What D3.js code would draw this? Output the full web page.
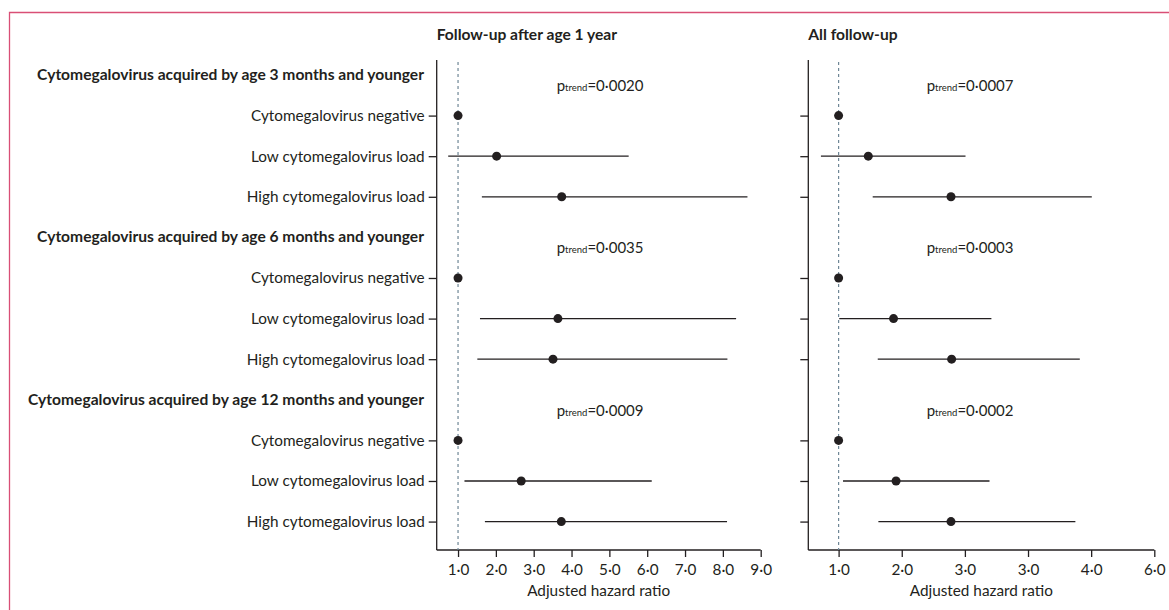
<!DOCTYPE html>
<html lang="en">
<head>
  <meta charset="UTF-8">
  <title>Cytomegalovirus hazard ratios</title>
  <script src="https://d3js.org/d3.v7.min.js"></script>
  <style>
    body { margin: 0; background: #fff; font-family: Lato, "Open Sans", sans-serif; }
    svg { display: block; }
    .axis path, .axis line { stroke: #231f20; stroke-width: 1.3px; }
    .axis text { font-family: Lato, sans-serif; font-size: 15.3px; fill: #231f20; }
  </style>
</head>
<body>
  <script>
    // data
    const groupTitles = [
      "Cytomegalovirus acquired by age 3 months and younger",
      "Cytomegalovirus acquired by age 6 months and younger",
      "Cytomegalovirus acquired by age 12 months and younger"
    ];
    const rowLabels = ["Cytomegalovirus negative", "Low cytomegalovirus load", "High cytomegalovirus load"];
    const panelTitles = ["Follow-up after age 1 year", "All follow-up"];

    // follow-up after age 1 year: estimate, lower, upper (3 rows per group)
    const after1Est   = [1.0, 2.02, 3.74,  1.0, 3.64, 3.51,  1.0, 2.67, 3.73];
    const after1Lower = [null, 0.74, 1.63,  null, 1.58, 1.51,  null, 1.17, 1.71];
    const after1Upper = [null, 5.51, 8.65,  null, 8.35, 8.12,  null, 6.12, 8.11];
    const after1P = ["0·0020", "0·0035", "0·0009"];

    // all follow-up
    const allEst   = [1.0, 1.47, 2.78,  1.0, 1.87, 2.79,  1.0, 1.91, 2.78];
    const allLower = [null, 0.72, 1.54,  null, 1.01, 1.62,  null, 1.07, 1.63];
    const allUpper = [null, 3.01, 5.01,  null, 3.42, 4.82,  null, 3.39, 4.75];
    const allP = ["0·0007", "0·0003", "0·0002"];

    const after1Ticks = [1, 2, 3, 4, 5, 6, 7, 8, 9];
    const after1TickLabels = ["1·0", "2·0", "3·0", "4·0", "5·0", "6·0", "7·0", "8·0", "9·0"];
    const allTicks = [1, 2, 3, 4, 5, 6];
    const allTickLabels = ["1·0", "2·0", "3·0", "3·0", "4·0", "6·0"];

    const W = 1169, H = 610;
    const svg = d3.select("body").append("svg").attr("width", W).attr("height", H);

    // pink frame (top and left)
    svg.append("path")
      .attr("d", `M9.5,${H} L9.5,12.5 L${W},12.5`)
      .attr("fill", "none")
      .attr("stroke", "#d94f76")
      .attr("stroke-width", 1.3);

    // row slots: 0 = group title, 1..3 = rows, repeating
    const y = d3.scaleLinear().domain([-0.32, 11.7]).range([62, 550]);
    const rowIndex = [];
    groupTitles.forEach((g, gi) => rowLabels.forEach((r, ri) => rowIndex.push(gi * 4 + ri + 1)));

    const panels = [
      { title: panelTitles[0], domain: [0.436, 9], range: [436.7, 760.7], est: after1Est, lo: after1Lower, hi: after1Upper, p: after1P, ticks: after1Ticks, tickLabels: after1TickLabels, labels: true, pX: 556.7 },
      { title: panelTitles[1], domain: [0.52, 6], range: [808.3, 1154.3], est: allEst, lo: allLower, hi: allUpper, p: allP, ticks: allTicks, tickLabels: allTickLabels, labels: false, pX: 926.7 }
    ];

    panels.forEach(pn => {
      const x = d3.scaleLinear().domain(pn.domain).range(pn.range);
      const g = svg.append("g");

      g.append("text")
        .attr("x", pn.range[0])
        .attr("y", 40)
        .attr("font-size", 15.6)
        .attr("font-weight", "bold")
        .attr("fill", "#231f20")
        .text(pn.title);

      // y axis
      const yAxis = d3.axisLeft(y)
        .tickValues(rowIndex)
        .tickSize(8)
        .tickPadding(4)
        .tickFormat((d, i) => pn.labels ? rowLabels[i % 3] : "");
      const ya = g.append("g").attr("class", "axis")
        .attr("transform", `translate(${pn.range[0]},0)`)
        .call(yAxis);
      ya.select(".domain").attr("d", `M0,${y(-0.32) - 2}V${y(11.7)}`);

      // x axis
      const xAxis = d3.axisBottom(x)
        .tickValues(pn.ticks)
        .tickSize(7)
        .tickPadding(7)
        .tickFormat((d, i) => pn.tickLabels[i]);
      const xa = g.append("g").attr("class", "axis")
        .attr("transform", `translate(0,${y(11.7)})`)
        .call(xAxis);
      xa.select(".domain").attr("d", `M${pn.range[0]},0H${pn.range[1]}`);

      g.append("text")
        .attr("x", (pn.range[0] + pn.range[1]) / 2)
        .attr("y", 596)
        .attr("text-anchor", "middle")
        .attr("font-size", 15.3)
        .attr("fill", "#231f20")
        .text("Adjusted hazard ratio");

      // reference line at 1
      g.append("line")
        .attr("x1", x(1)).attr("x2", x(1))
        .attr("y1", y(-0.32)).attr("y2", y(11.7))
        .attr("stroke", "#6f8796")
        .attr("stroke-width", 1.2)
        .attr("stroke-dasharray", "3,3");

      // group titles and p trend
      groupTitles.forEach((t, gi) => {
        if (pn.labels) {
          g.append("text")
            .attr("x", 424)
            .attr("y", y(gi * 4))
            .attr("dy", "0.32em")
            .attr("text-anchor", "end")
            .attr("font-size", 15.6)
            .attr("font-weight", "bold")
            .attr("fill", "#231f20")
            .text(t);
        }
        const pt = g.append("text")
          .attr("x", pn.pX)
          .attr("y", y(gi * 4) + 16)
          .attr("font-size", 15)
          .attr("fill", "#231f20");
        pt.append("tspan").text("p");
        pt.append("tspan").attr("font-size", 9.5).text("trend");
        pt.append("tspan").text("=" + pn.p[gi]);
      });

      // confidence intervals
      g.selectAll("line.ci")
        .data(pn.est.map((e, i) => ({ e, lo: pn.lo[i], hi: pn.hi[i], r: rowIndex[i] })).filter(d => d.lo != null))
        .join("line")
        .attr("class", "ci")
        .attr("x1", d => x(d.lo)).attr("x2", d => x(d.hi))
        .attr("y1", d => y(d.r)).attr("y2", d => y(d.r))
        .attr("stroke", "#231f20")
        .attr("stroke-width", 1.3);

      g.selectAll("circle")
        .data(pn.est.map((e, i) => ({ e, r: rowIndex[i] })))
        .join("circle")
        .attr("cx", d => x(d.e))
        .attr("cy", d => y(d.r))
        .attr("r", 4.5)
        .attr("fill", "#231f20");
    });
  </script>
</body>
</html>
